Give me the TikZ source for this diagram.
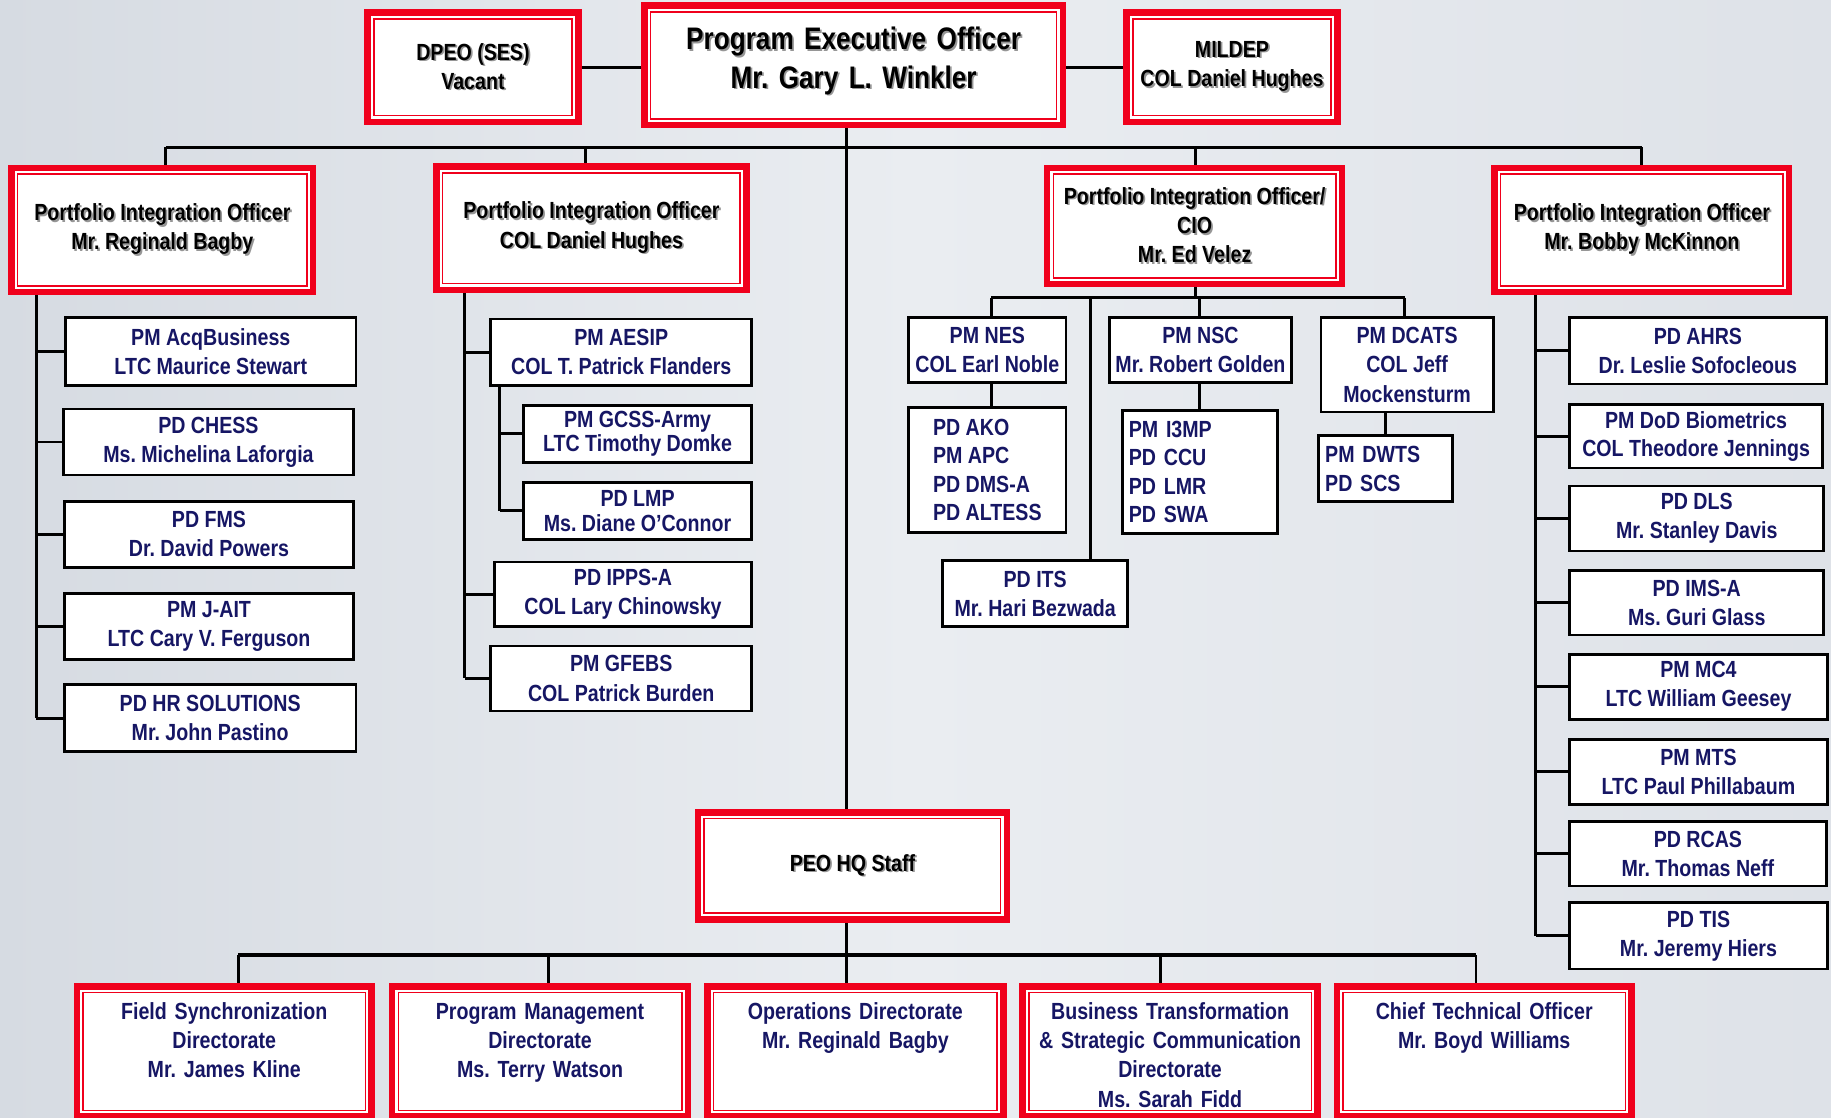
\documentclass[tikz,border=0pt]{standalone}
\usepackage{fontspec}
\setmainfont{Liberation Sans}[FakeStretch=0.84]
\usetikzlibrary{calc}
\definecolor{peored}{RGB}{240,0,28}
\definecolor{navy}{RGB}{22,22,100}
\definecolor{shgray}{RGB}{150,150,150}
\definecolor{bgA}{RGB}{214,219,226}
\definecolor{bgB}{RGB}{234,237,241}
\definecolor{bgC}{RGB}{222,226,232}
\pgfdeclarelayer{backdrop}
\pgfdeclarelayer{lines}
\pgfsetlayers{backdrop,lines,main}
\newcommand\sh[1]{\makebox[0pt][l]{\hspace{0.9pt}\raisebox{-0.9pt}{\textcolor{shgray}{#1}}}#1}
\newcommand\rbox[7][]{\node[redbox,minimum width={(#5-#3-5.5)*0.6pt},minimum height={(#6-#4-5.5)*0.6pt},#1] (#2) at ({(#3+#5)/2},{(#4+#6)/2}) {#7};}
\newcommand\bbox[7][]{\node[blkbox,minimum width={(#5-#3-2.4)*0.6pt},minimum height={(#6-#4-2.4)*0.6pt},#1] (#2) at ({(#3+#5)/2},{(#4+#6)/2}) {#7};}
\tikzset{
  redbox/.style={draw=peored,line width=3.3pt,fill=white,align=center,inner sep=2pt,
    font=\frenchspacing\bfseries\fontsize{12}{15}\selectfont,text=black,
    path picture={\draw[peored,line width=0.8pt]
      ([shift={(3.2pt,3.2pt)}]path picture bounding box.south west) rectangle
      ([shift={(-3.2pt,-3.2pt)}]path picture bounding box.north east);}},
  blkbox/.style={draw=black,line width=1.45pt,fill=white,align=center,inner sep=1pt,
    font=\frenchspacing\bfseries\fontsize{12}{15}\selectfont,text=navy},
  dirbox/.style={text=navy,text width=140pt,text height=15pt,text depth=47.9pt},
  conn/.style={line width=1.5pt,black},
  busline/.style={line width=2.2pt,black}
}
\begin{document}
\begin{tikzpicture}[x=0.6pt,y=-0.6pt]
\useasboundingbox (0,0) rectangle (1568,957);
\begin{pgfonlayer}{backdrop}
\shade[left color=bgA,right color=bgC,middle color=bgB] (0,0) rectangle (1568,957);
\end{pgfonlayer}

% ---- top row ----
\rbox{dpeo}{312}{8}{498}{107}{\sh{DPEO (SES)}\\\sh{Vacant}}
\rbox[text width=200pt,text height=20.65pt,text depth=36.85pt,font=\frenchspacing\bfseries\fontsize{16}{19.8}\selectfont]{peo}{549}{2}{913}{110}{\sh{Program Executive Officer}\\\sh{Mr. Gary L. Winkler}}
\rbox{mildep}{962}{8}{1148}{107}{\sh{MILDEP}\\\sh{COL Daniel Hughes}}

% ---- portfolio integration officers ----
\rbox{pio1}{7}{141}{271}{253}{\sh{Portfolio Integration Officer}\\\sh{Mr. Reginald Bagby}}
\rbox{pio2}{371}{140}{642}{251}{\sh{Portfolio Integration Officer}\\\sh{COL Daniel Hughes}}
\rbox{pio3}{894}{141}{1152}{246}{\sh{Portfolio Integration Officer/}\\\sh{CIO}\\\sh{Mr. Ed Velez}}
\rbox{pio4}{1277}{141}{1535}{253}{\sh{Portfolio Integration Officer}\\\sh{Mr. Bobby McKinnon}}

% ---- PIO 1 children ----
\bbox{acq}{55}{271}{306}{331}{PM AcqBusiness\\LTC Maurice Stewart}
\bbox{chess}{53}{349}{304}{408}{PD CHESS\\Ms. Michelina Laforgia}
\bbox{fms}{54}{428}{304}{487}{PD FMS\\Dr. David Powers}
\bbox{jait}{54}{507}{304}{566}{PM J-AIT\\LTC Cary V. Ferguson}
\bbox{hr}{54}{585}{306}{645}{PD HR SOLUTIONS\\Mr. John Pastino}

% ---- PIO 2 children ----
\bbox{aesip}{419}{272}{645}{331}{PM AESIP\\COL T. Patrick Flanders}
\bbox[font=\frenchspacing\bfseries\fontsize{12}{12.6}\selectfont]{gcss}{447}{346}{645}{397}{PM GCSS-Army\\LTC Timothy Domke}
\bbox[font=\frenchspacing\bfseries\fontsize{12}{12.6}\selectfont]{lmp}{447}{412}{645}{463}{PD LMP\\Ms. Diane O’Connor}
\bbox{ipps}{422}{480}{645}{538}{PD IPPS-A\\COL Lary Chinowsky}
\bbox{gfebs}{419}{552}{645}{610}{PM GFEBS\\COL Patrick Burden}

% ---- PIO 3 children ----
\bbox{nes}{777}{271}{914}{329}{PM NES\\COL Earl Noble}
\bbox[align=left,font=\frenchspacing\bfseries\fontsize{12}{14.6}\selectfont]{ako}{777}{348}{914}{457}{PD AKO\\PM APC\\PD DMS-A\\PD ALTESS}
\bbox{nsc}{949}{271}{1107}{329}{PM NSC\\Mr. Robert Golden}
\bbox[align=left,text width=73pt,inner xsep=3pt,font=\frenchspacing\bfseries\fontsize{12}{14.6}\selectfont]{i3mp}{960}{350}{1095}{458}{PM I3MP\\PD CCU\\PD LMR\\PD SWA}
\bbox{dcats}{1130}{271}{1280}{354}{PM DCATS\\COL Jeff\\Mockensturm}
\bbox[align=left,text width=62pt,inner xsep=3pt]{dwts}{1128}{372}{1245}{431}{PM DWTS\\PD SCS}
\bbox{its}{806}{479}{967}{538}{PD ITS\\Mr. Hari Bezwada}

% ---- PIO 4 children ----
\bbox{ahrs}{1343}{271}{1565}{330}{PD AHRS\\Dr. Leslie Sofocleous}
\bbox[font=\frenchspacing\bfseries\fontsize{12}{14.4}\selectfont]{dod}{1343}{345}{1562}{402}{PM DoD Biometrics\\COL Theodore Jennings}
\bbox{dls}{1343}{415}{1563}{473}{PD DLS\\Mr. Stanley Davis}
\bbox{ims}{1343}{487}{1563}{545}{PD IMS-A\\Ms. Guri Glass}
\bbox{mc4}{1343}{559}{1566}{617}{PM MC4\\LTC William Geesey}
\bbox{mts}{1343}{632}{1566}{690}{PM MTS\\LTC Paul Phillabaum}
\bbox{rcas}{1343}{702}{1565}{760}{PD RCAS\\Mr. Thomas Neff}
\bbox{tis}{1343}{772}{1566}{831}{PD TIS\\Mr. Jeremy Hiers}

% ---- HQ staff and directorates ----
\rbox{hq}{595}{693}{865}{790}{\sh{PEO HQ Staff}}
\rbox[dirbox]{fsd}{63}{842}{321}{959}{Field Synchronization\\Directorate\\Mr. James Kline}
\rbox[dirbox]{pmd}{333}{842}{592}{959}{Program Management\\Directorate\\Ms. Terry Watson}
\rbox[dirbox]{opd}{603}{842}{862}{959}{Operations Directorate\\Mr. Reginald Bagby}
\rbox[dirbox]{btd}{873}{842}{1131}{959}{Business Transformation\\\& Strategic Communication\\Directorate\\Ms. Sarah Fidd}
\rbox[dirbox]{cto}{1142}{842}{1400}{959}{Chief Technical Officer\\Mr. Boyd Williams}

% ---- connectors ----
\begin{pgfonlayer}{lines}
\draw[conn] (dpeo.east) -- (dpeo.east -| peo.west);
\draw[conn] (mildep.west) -- (mildep.west -| peo.east);
\coordinate (t0) at (142,126);
\coordinate (t1) at (501,126);
\coordinate (trunk) at (725,126);
\coordinate (t3) at (1024,126);
\coordinate (t4) at (1406,126);
\draw[conn] (t0) -- (t4);
\draw[conn] (t0) -- (t0 |- pio1.north);
\draw[conn] (t1) -- (t1 |- pio2.north);
\draw[conn] (t3) -- (t3 |- pio3.north);
\draw[conn] (t4) -- (t4 |- pio4.north);
\draw[conn] (trunk |- peo.south) -- (trunk |- hq.north);
% PIO 1
\coordinate (s1) at (31,0);
\draw[conn] (s1 |- pio1.south) -- (s1 |- hr.west);
\foreach \c in {acq,chess,fms,jait,hr} \draw[conn] (s1 |- \c.west) -- (\c.west);
% PIO 2
\coordinate (s2) at (398,0);
\draw[conn] (s2 |- pio2.south) -- (s2 |- gfebs.west);
\foreach \c in {aesip,ipps,gfebs} \draw[conn] (s2 |- \c.west) -- (\c.west);
\coordinate (s2b) at (428,0);
\draw[conn] (s2b |- aesip.south) -- (s2b |- lmp.west);
\foreach \c in {gcss,lmp} \draw[conn] (s2b |- \c.west) -- (\c.west);
% PIO 3
\coordinate (u0) at (1024,255);
\coordinate (u1) at (849,255);
\coordinate (u2) at (934,255);
\coordinate (u3) at (1027,255);
\coordinate (u4) at (1203,255);
\draw[conn] (u0 |- pio3.south) -- (u0);
\draw[conn] (u1) -- (u4);
\draw[conn] (u1) -- (u1 |- nes.north);
\draw[conn] (u2) -- (u2 |- its.north);
\draw[conn] (u3) -- (u3 |- nsc.north);
\draw[conn] (u4) -- (u4 |- dcats.north);
\draw[conn] (u1 |- nes.south) -- (u1 |- ako.north);
\draw[conn] (u3 |- nsc.south) -- (u3 |- i3mp.north);
\draw[conn] (dwts.north |- dcats.south) -- (dwts.north);
% PIO 4
\coordinate (s4) at (1315,0);
\draw[conn] (s4 |- pio4.south) -- (s4 |- tis.west);
\foreach \c in {ahrs,dod,dls,ims,mc4,mts,rcas,tis} \draw[conn] (s4 |- \c.west) -- (\c.west);
% HQ staff
\coordinate (d1) at (204,818);
\coordinate (d2) at (470,818);
\coordinate (d3) at (725,818);
\coordinate (d4) at (994,818);
\coordinate (d5) at (1264,818);
\draw[conn] (trunk |- hq.south) -- (d3);
\draw[busline] (d1) -- (d5);
\draw[conn] (d1) -- (d1 |- fsd.north);
\draw[conn] (d2) -- (d2 |- pmd.north);
\draw[conn] (d3) -- (d3 |- opd.north);
\draw[conn] (d4) -- (d4 |- btd.north);
\draw[conn] (d5) -- (d5 |- cto.north);
\end{pgfonlayer}
\end{tikzpicture}
\end{document}
